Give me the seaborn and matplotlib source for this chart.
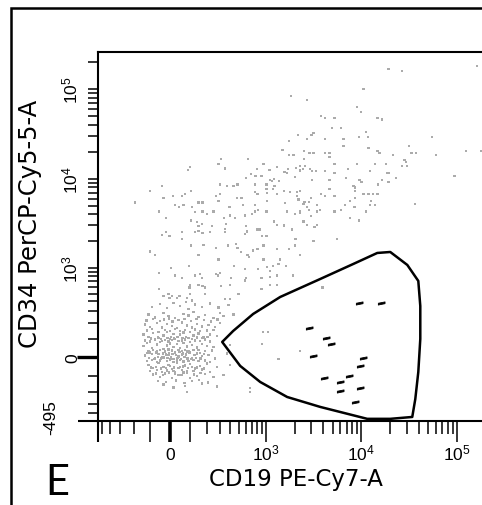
import numpy as np
import pandas as pd
import matplotlib
matplotlib.use("Agg")
import matplotlib.pyplot as plt
import seaborn as sns
from matplotlib.ticker import FixedLocator, FixedFormatter, NullFormatter
from matplotlib.transforms import ScaledTranslation
from matplotlib.patches import Polygon
from matplotlib.lines import Line2D

# ---------------- data (fluorescence values) ----------------
cluster_pts = [
    (-91, 340), (-49, 370), (-16, 330), (16, 385), (49, 350), (91, 320), (128, 365), (168, 340), (224, 375), (289, 335), (383, 360),
    (-109, 270), (-74, 245), (-32, 285), (-8, 255), (24, 240), (65, 275), (91, 260), (118, 290), (147, 250), (189, 265), (249, 240), (303, 280), (333, 255), (438, 270),
    (-120, 220), (-85, 232), (-50, 215), (-28, 228), (-5, 236), (12, 212), (40, 225), (70, 230), (105, 218), (135, 233), (180, 222), (230, 214), (280, 228),
    (-128, 190), (-100, 175), (-65, 200), (-40, 170), (-16, 195), (8, 180), (32, 165), (57, 205), (83, 185), (109, 170), (138, 195), (168, 178), (212, 188), (262, 172), (303, 200),
    (-118, 150), (-91, 158), (-57, 142), (-24, 155), (0, 145), (24, 160), (49, 148), (74, 152), (100, 140), (128, 157), (158, 146), (201, 150), (249, 155),
    (-138, 125), (-109, 110), (-83, 135), (-57, 105), (-32, 120), (-16, 140), (0, 100), (16, 130), (32, 112), (49, 125), (65, 138), (91, 104), (118, 120), (147, 132), (179, 108), (224, 126), (276, 115),
    (-95, 102), (-60, 108), (-45, 99), (-12, 106), (4, 112), (20, 101), (36, 109), (60, 104), (80, 111), (112, 100), (140, 107), (170, 103), (205, 110),
    (-128, 90), (-100, 85), (-74, 96), (-40, 88), (-24, 94), (-8, 84), (8, 92), (24, 98), (40, 86), (57, 90), (74, 95), (100, 83), (128, 91), (158, 88), (189, 96), (224, 85),
    (-138, 60), (-118, 75), (-91, 50), (-65, 68), (-49, 80), (-32, 45), (-16, 62), (0, 74), (16, 55), (32, 70), (49, 48), (65, 78), (83, 58), (109, 66), (138, 52), (168, 72), (201, 60), (249, 55), (401, 65),
    (-109, 35), (-83, 40), (-65, 30), (-49, 38), (-24, 33), (-8, 42), (8, 36), (24, 29), (40, 40), (57, 34), (74, 38), (91, 31), (118, 37), (147, 40), (189, 33), (238, 36),
    (-115, 22), (-90, 18), (-70, 26), (-36, 20), (-20, 15), (-4, 24), (12, 19), (28, 12), (45, 27), (62, 21), (78, 16), (96, 25), (125, 14), (155, 23), (180, 18),
    (-128, 10), (-100, 25), (-74, -5), (-57, 18), (-40, 0), (-24, 28), (-8, 12), (8, -8), (24, 22), (40, 5), (57, 15), (83, 30), (109, -2), (138, 20), (168, 8), (212, 14), (262, -6), (367, 20),
    (-105, -3), (-80, -8), (-60, 2), (-44, -6), (-28, -1), (-12, -4), (4, 3), (20, -9), (36, -2), (53, -7), (70, 1), (86, -5), (105, -8), (132, -3), (160, -6),
    (-118, -18), (-91, -12), (-65, -22), (-49, -15), (-16, -20), (0, -10), (16, -25), (32, -16), (49, -14), (65, -21), (91, -18), (118, -12), (147, -20), (189, -16), (224, -22),
    (-109, -40), (-83, -55), (-57, -30), (-32, -48), (-8, -38), (8, -60), (32, -28), (49, -50), (74, -42), (100, -35), (128, -58), (158, -45), (201, -32), (276, -50), (401, -40),
    (-95, -52), (-70, -48), (-45, -58), (-20, -54), (0, -46), (20, -52), (40, -56), (62, -47), (88, -55), (112, -50), (140, -53), (180, -57),
    (-100, -70), (-65, -65), (-40, -75), (-16, -68), (16, -72), (24, -78), (57, -66), (83, -74), (118, -70), (168, -64), (224, -76),
    (-70, -86), (-35, -92), (-5, -80), (25, -88), (55, -95), (85, -84), (120, -90), (160, -82),
    (-83, -90), (-49, -105), (-24, -85), (8, -110), (40, -95), (65, -80), (100, -112), (138, -100), (189, -88), (249, -105), (333, -95),
    (-60, -128), (-20, -135), (30, -125), (70, -140), (110, -130), (150, -122), (210, -138),
    (-32, -150), (16, -170), (74, -160), (168, -145), (276, -165), (674, -175),
    (83, -205), (401, 430), (499, 490),
]

upper_pts = [
    (1845, 84900), (2170, 31100), (1746, 26240), (1486, 20800), (1758, 18580), (1950, 18300),
    (100, 13430), (88, 12600), (311, 16520), (289, 14630), (349, 12970), (640, 16520), (940, 14630),
    (800, 12860), (1090, 12500), (1309, 13500), (1560, 12000), (1717, 12860), (2083, 13200), (2293, 12400), (2464, 12860),
    (690, 11300), (770, 10820), (889, 10820), (1094, 9690), (1205, 9940), (1372, 9510), (1663, 11510), (610, 10200), (2032, 10380),
    (19250, 170600), (26770, 161800), (161900, 181300), (10540, 101000), (2694, 75500), (8990, 63050), (9970, 55850),
    (3777, 50000), (4188, 48000), (5240, 47500), (14770, 47500), (16420, 46000), (4923, 37260), (6111, 37260),
    (3160, 32520), (3013, 30900), (11170, 33100), (2694, 27860), (4188, 27860), (6510, 27860), (9500, 29560),
    (11800, 29560), (54800, 29560), (6510, 23440), (31700, 23440), (11890, 21920), (2525, 20600), (2869, 19580),
    (3160, 19580), (4188, 19580), (4645, 19580), (14770, 20600), (15500, 19580), (33480, 19580), (37240, 19580),
    (124200, 20600), (181000, 20600), (60800, 18580), (21400, 18580), (4645, 17380), (2525, 16520), (28300, 16220),
    (29500, 15520), (5240, 14630), (8990, 14630), (13970, 14630), (18200, 14630), (2293, 13790), (2570, 13790),
    (26600, 13790), (30000, 13790), (2917, 12860), (3040, 12120), (3348, 12300), (4188, 12300), (5240, 11600),
    (7240, 12860), (12380, 12300), (18520, 11600), (19440, 11600), (94400, 10820), (3040, 9690), (4645, 9690),
    (6900, 10200), (9570, 9690), (10050, 9130), (16420, 9690), (19250, 9130), (23170, 10200),
]

middle_pts = [
    (14920, 8590), (8280, 8240), (8610, 8000), (2293, 7240), (4645, 7680), (8630, 7240), (3805, 6750), (4188, 6460),
    (5240, 6460), (10540, 6750), (11890, 6750), (13220, 6750), (14770, 6750), (2118, 6460), (2202, 5785), (2990, 6090),
    (8630, 6090), (7650, 5680), (12680, 5680), (2543, 5455), (2849, 5455), (12380, 5085), (13970, 5085), (3430, 5085),
    (6780, 5085), (2694, 4795), (2849, 4470), (8490, 4795), (6111, 4505), (2293, 4325), (2293, 4120), (3715, 4505),
    (3430, 4280), (5240, 4280), (11170, 4280), (2990, 3800), (7650, 3610), (9500, 3395), (2694, 3040), (3236, 2864),
    (3430, 3040), (2032, 2118), (3160, 2013), (5550, 2118), (2032, 1782), (2293, 1403), (36640, 5220),
    (303, 8590), (366, 8240), (488, 8590), (438, 8240), (765, 8590), (1010, 8590), (1160, 9510), (1225, 8240),
    (1534, 7350), (1803, 7060), (2118, 7060), (1010, 7680), (1028, 6930), (1188, 7680),
    (-40, 8240), (-100, 7240), (105, 7240), (74, 6750), (57, 6370), (13, 6460), (-32, 6090), (303, 6750), (270, 6370),
    (289, 5680), (480, 6090), (540, 6090), (765, 7060), (810, 6750), (1309, 6750),
    (-190, 5400), (24, 5085), (44, 4795), (65, 5085), (109, 4795), (147, 5400), (173, 5400), (393, 4795), (560, 5085),
    (765, 5085), (1028, 5680), (1595, 5355), (2202, 5940), (2481, 5220),
    (-53, 4280), (128, 4215), (173, 4280), (201, 4035), (249, 4280), (401, 3860), (339, 3610), (458, 3610), (593, 3860),
    (705, 4035), (765, 4280), (825, 4505), (1010, 4280), (1663, 4280), (2032, 4035),
    (-20, 3610), (105, 3395), (138, 3260), (168, 3118), (147, 2938), (240, 2938), (357, 3118), (610, 2938), (1205, 3310),
    (1309, 3040), (1534, 2985), (2481, 3310),
]

lower_pts = [
    (-40, 2350), (-20, 2517), (-3, 2270), (57, 2517), (57, 2118), (128, 2517), (147, 2600), (173, 2450), (224, 2517),
    (349, 2517), (349, 2741), (620, 2557), (593, 2410), (800, 2692), (850, 2692), (900, 2270), (1010, 2270), (1875, 2692),
    (2083, 2118), (104, 1782), (179, 1815), (270, 1680), (380, 1782), (470, 1862), (488, 1667), (535, 1504), (630, 1403),
    (650, 1322), (720, 1567), (810, 1632), (940, 1782), (1309, 1632), (1735, 1632),
    (-100, 1528), (-74, 1403), (147, 1403), (289, 1243), (940, 1243), (1396, 1243),
    (5, 996), (95, 1048), (448, 1048), (593, 968), (825, 968), (1028, 1021), (1094, 912), (1188, 1048), (1350, 1112), (1630, 1048),
    (-53, 872), (24, 812), (57, 757), (128, 812), (158, 850), (168, 757), (270, 850), (303, 872), (283, 812), (410, 757),
    (593, 710), (610, 757), (889, 757), (1104, 788), (1309, 812), (1923, 812),
    (100, 632), (97, 592), (147, 632), (189, 592), (173, 620), (311, 610), (401, 632), (889, 566), (1104, 632), (1309, 632), (-53, 566),
    (-32, 464), (-8, 494), (-3, 438), (8, 464), (32, 438), (45, 464), (83, 438), (100, 494), (79, 390), (109, 410), (189, 494), (349, 430),
    (925, 141), (1040, 141), (905, 69), (1350, -8), (2290, 34), (3910, 592), (674, -202),
]

# events inside the gate (drawn black)
gated_x = [9340, 16030, 2800, 4290, 4840, 3110, 10390, 9740, 4020, 6010, 7340, 5920, 9740, 8630]
gated_y = [380, 380, 165, 106, 69, 9, -3, -43, -112, -133, -101, -193, -174, -280]

# gate polygon vertices
gate_x = [322, 434, 725, 1410, 3712, 8230, 14670, 20060, 30240, 39400, 41340, 41340, 39400, 36650, 34070,
          20060, 11520, 3712, 1670, 864, 522]
gate_y = [82, 147, 274, 454, 742, 1103, 1470, 1508, 1075, 704, 350, 99, -77, -258, -442,
          -466, -466, -330, -241, -135, -44]

# axes / ticks
x_limits = [-550, 262144]
y_limits = [-495, 262144]
x_major_ticks = [-100, 0, 100, 1000, 10000, 100000]
x_major_labels = ["", "0", "", r"$\mathregular{10^{3}}$", r"$\mathregular{10^{4}}$", r"$\mathregular{10^{5}}$"]
x_minor_ticks = [-500, -400, -300, -200, 200, 300, 400, 500, 600, 700, 800, 900,
                 2000, 3000, 4000, 5000, 6000, 7000, 8000, 9000,
                 20000, 30000, 40000, 50000, 60000, 70000, 80000, 90000, 200000]
y_major_ticks = [-495, 0, 1000, 10000, 100000]
y_major_labels = ["-495", "0", r"$\mathregular{10^{3}}$", r"$\mathregular{10^{4}}$", r"$\mathregular{10^{5}}$"]
y_minor_ticks = [-400, -300, -200, -100, 100, 200, 300, 400, 500, 600, 700, 800, 900,
                 2000, 3000, 4000, 5000, 6000, 7000, 8000, 9000,
                 20000, 30000, 40000, 50000, 60000, 70000, 80000, 90000, 200000]
x_title = "CD19 PE-Cy7-A"
y_title = "CD34 PerCP-Cy5-5-A"
panel_letter = "E"

# ---------------- figure ----------------
plt.rcParams["font.family"] = ["Liberation Sans", "DejaVu Sans"]
plt.rcParams["mathtext.fontset"] = "custom"
plt.rcParams["mathtext.rm"] = "Liberation Sans"
plt.rcParams["mathtext.it"] = "Liberation Sans:italic"
plt.rcParams["mathtext.bf"] = "Liberation Sans:bold"

W, H = 482, 506
fig = plt.figure(figsize=(W / 100, H / 100), dpi=100)
fig.patch.set_facecolor("white")
ax = fig.add_axes([98 / W, (H - 422) / H, 399 / W, 369 / H])
ax.set_facecolor("white")


def fwd(v):
    return np.arcsinh(np.asarray(v, dtype=float) / 200.0)


def inv(u):
    return 200.0 * np.sinh(np.asarray(u, dtype=float))


ax.set_xscale("function", functions=(fwd, inv))
ax.set_yscale("function", functions=(fwd, inv))

all_gray = cluster_pts + upper_pts + middle_pts + lower_pts
gray_df = pd.DataFrame(all_gray, columns=["x", "y"])
gated_df = pd.DataFrame({"x": gated_x, "y": gated_y})

sns.scatterplot(data=gray_df, x="x", y="y", ax=ax, color="#ababab", marker="s",
                s=2.8, linewidth=0, edgecolor="none", legend=False, zorder=2)

dash_marker = [(-1.0, -0.45), (1.0, -0.05), (1.0, 0.45), (-1.0, 0.05)]
sns.scatterplot(data=gated_df, x="x", y="y", ax=ax, color="black", marker=dash_marker,
                s=26, linewidth=0.6, edgecolor="black", legend=False, zorder=4)

ax.add_patch(Polygon(np.column_stack([gate_x, gate_y]), closed=True, fill=False,
                     edgecolor="black", linewidth=1.8, joinstyle="round", zorder=3))

ax.set_xlim(*x_limits)
ax.set_ylim(*y_limits)

ax.xaxis.set_major_locator(FixedLocator(x_major_ticks))
ax.xaxis.set_major_formatter(FixedFormatter(x_major_labels))
ax.xaxis.set_minor_locator(FixedLocator(x_minor_ticks))
ax.xaxis.set_minor_formatter(NullFormatter())
ax.yaxis.set_major_locator(FixedLocator(y_major_ticks))
ax.yaxis.set_major_formatter(FixedFormatter(y_major_labels))
ax.yaxis.set_minor_locator(FixedLocator(y_minor_ticks))
ax.yaxis.set_minor_formatter(NullFormatter())

for side in ["left", "bottom", "top"]:
    ax.spines[side].set_linewidth(1.5)
    ax.spines[side].set_color("black")
ax.spines["right"].set_visible(False)

ax.tick_params(axis="x", which="major", direction="out", length=15, width=1.1,
               pad=12.4, labelsize=12.5, colors="black")
ax.tick_params(axis="x", which="minor", direction="out", length=9.4, width=1.1, colors="black")
ax.tick_params(axis="y", which="major", direction="out", length=7.2, width=1.1,
               pad=5.8, labelsize=12.5, labelrotation=90, colors="black")
ax.tick_params(axis="y", which="minor", direction="out", length=7.2, width=1.1, colors="black")

xt = ax.xaxis.get_major_ticks()
for t in xt:
    t.label1.set_va("baseline")
xt[1].tick1line.set_markeredgewidth(2.6)

yt = ax.yaxis.get_major_ticks()
for t in yt:
    t.label1.set_va("center")
yt[1].tick1line.set_markersize(15)
yt[1].tick1line.set_markeredgewidth(2.4)
yt[0].label1.set_transform(yt[0].label1.get_transform() +
                           ScaledTranslation(-0.22, 0.045, fig.dpi_scale_trans))

# spine extensions past the corner
ax.plot([-20 / 399, 0], [0, 0], transform=ax.transAxes, color="black", lw=1.5,
        clip_on=False, solid_capstyle="butt", zorder=5)
ax.plot([0, 0], [-21 / 369, 0], transform=ax.transAxes, color="black", lw=1.5,
        clip_on=False, solid_capstyle="butt", zorder=5)

ax.set_xlabel(x_title, fontfamily="DejaVu Sans", fontsize=16.5)
ax.xaxis.set_label_coords((296 - 98) / 399, (422 - 486) / 369)
ax.xaxis.label.set_va("baseline")
ax.set_ylabel(y_title, fontfamily="DejaVu Sans", fontsize=17.5)
ax.yaxis.set_label_coords((30 - 98) / 399, (422 - 223.5) / 369)
ax.yaxis.label.set_va("center")

# outer panel frame
fig.add_artist(Line2D([10.5 / W, 10.5 / W, 1.0], [0.0, 1 - 8.5 / H, 1 - 8.5 / H],
                      transform=fig.transFigure, color="black", lw=1.8,
                      solid_joinstyle="miter"))
fig.text(45 / W, (H - 495) / H, panel_letter, fontsize=30,
         family=["Liberation Sans Narrow", "Lato"], ha="left", va="baseline")

fig.savefig("out.png", dpi=100, facecolor="white")
